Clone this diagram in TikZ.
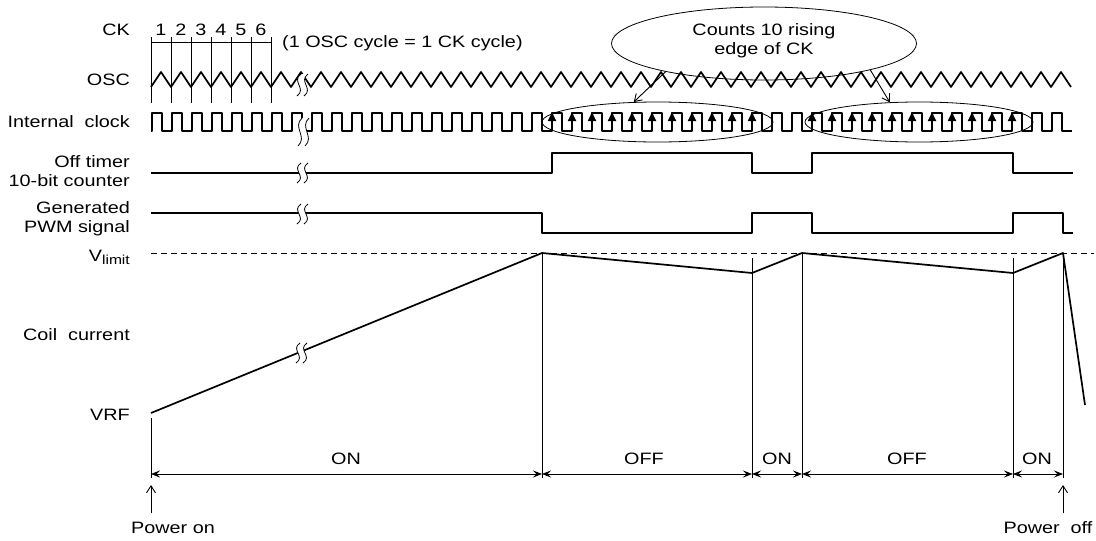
\documentclass[tikz,border=0pt]{standalone}
\usepackage{fontspec}
\setmainfont{Liberation Sans}[FakeStretch=1.2]
\usetikzlibrary{shapes.geometric,arrows.meta}
\tikzset{
  lbl/.style={font=\fontsize{16.5}{19}\selectfont, inner sep=0pt},
  sig/.style={line width=1.7pt, line join=round},
  thinline/.style={line width=0.8pt},
  dim/.style={line width=0.8pt, {Stealth[length=9pt,width=7pt,inset=3.5pt]}-{Stealth[length=9pt,width=7pt,inset=3.5pt]}},
  ptr/.style={line width=0.9pt, -{Straight Barb[length=7pt,width=9pt]}},
  upedge/.style={line width=1.7pt, -{Triangle[length=9pt,width=8pt]}},
  oval/.style={draw, ellipse, line width=0.8pt, inner sep=0pt},
  brk/.pic={
    \fill[white] (-2,-#1) .. controls (-12,-#1/3) and (4,#1/3) .. (-6,#1)
       -- (1,#1) .. controls (11,#1/3) and (-5,-#1/3) .. (5,-#1) -- cycle;
    \draw[line width=0.8pt] (-2,-#1) .. controls (-12,-#1/3) and (4,#1/3) .. (-6,#1);
    \draw[line width=0.8pt] (5,-#1) .. controls (-5,-#1/3) and (11,#1/3) .. (1,#1);
  }
}
\begin{document}
\begin{tikzpicture}[x=1pt,y=-1pt]
\useasboundingbox (0,0) rectangle (1096,541);

% left labels
\node[lbl, anchor=east] (lck) at (130,30) {CK};
\node[lbl, anchor=east] (losc) at (130,80) {OSC};
\node[lbl, anchor=east] (lint) at (130,122) {Internal\ \ clock};
\node[lbl, anchor=east, align=right] (loff) at (130,171) {Off timer\\10-bit counter};
\node[lbl, anchor=east, align=right] (lpwm) at (130,219) {Generated\\PWM signal};
\node[lbl, anchor=east] (lvl) at (130,257) {V\raisebox{-0.35ex}{\fontsize{13}{13}\selectfont limit}};
\node[lbl, anchor=east] (lcoil) at (130,335) {Coil\ \ current};
\node[lbl, anchor=east] (lvrf) at (130,415) {VRF};

% CK ruler
\draw[thinline] (151,42) -- (271,42);
\foreach \k in {0,...,6} { \draw[thinline] (151+20*\k,37) -- (151+20*\k,103); }
\foreach \k in {1,...,6} { \node[lbl] (ck\k) at (141+20*\k,30) {\k}; }
\node[lbl, anchor=west] (note) at (282,43) {(1 OSC cycle = 1 CK cycle)};

% OSC
\draw[sig] (151,87) \foreach \i in {0,...,45} { -- (161+20*\i,72) -- (171+20*\i,87) };

% Internal clock
\draw[sig] (151,131) \foreach \i in {0,...,45} { -- (152+20*\i,131) -- (152+20*\i,113) -- (162+20*\i,113) -- (162+20*\i,131) } -- (1072,131);
\foreach \i in {20,...,30} { \draw[upedge] (152+20*\i,131) -- (152+20*\i,112); }
\foreach \i in {33,...,43} { \draw[upedge] (152+20*\i,131) -- (152+20*\i,112); }

% Off timer
\draw[sig] (151,173) -- (552,173) -- (552,153) -- (752,153) -- (752,173) -- (812,173) -- (812,153) -- (1013,153) -- (1013,173) -- (1073,173);
% PWM
\draw[sig] (151,213) -- (542,213) -- (542,233) -- (752,233) -- (752,213) -- (812,213) -- (812,233) -- (1013,233) -- (1013,213) -- (1063,213) -- (1063,233) -- (1073,233);

% Vlimit
\draw[line width=0.7pt, dash pattern=on 6pt off 4pt] (151,253) -- (1094,253);

% vertical time lines
\draw[thinline] (151,418) -- (151,478);
\draw[thinline] (542,253) -- (542,478);
\draw[thinline] (752,258) -- (752,478);
\draw[thinline] (802,253) -- (802,478);
\draw[thinline] (1013,258) -- (1013,478);
\draw[thinline] (1063,253) -- (1063,478);

% coil current
\draw[sig] (151,413) -- (542,253) -- (752,273) -- (802,253) -- (1013,273) -- (1063,253) -- (1085,405);

% breaks
\pic at (303,85) {brk=11};
\pic at (304,132) {brk=14};
\pic at (303,173) {brk=10};
\pic at (303,214) {brk=10};
\pic at (302,353) {brk=10};

% ellipses
\node[oval, minimum width=305pt, minimum height=73pt] (cnt) at (764,43.5) {};
\node[lbl, align=center] (cnttxt) at (764,41) {Counts 10 rising\\edge of CK};
\node[oval, minimum width=231pt, minimum height=40pt] (e1) at (657.5,122) {};
\node[oval, minimum width=228pt, minimum height=40pt] (e2) at (919,122) {};
\draw[ptr] (cnt.196) -- (e1.140);
\draw[ptr] (cnt.346) -- (e2.146);

% dimensions
\coordinate (d0) at (151,474);
\coordinate (d1) at (542,474);
\coordinate (d2) at (752,474);
\coordinate (d3) at (802,474);
\coordinate (d4) at (1013,474);
\coordinate (d5) at (1063,474);
\draw[dim] (d0) -- (d1);
\draw[dim] (d1) -- (d2);
\draw[dim] (d2) -- (d3);
\draw[dim] (d3) -- (d4);
\draw[dim] (d4) -- (d5);
\node[lbl] (on1) at (346,459) {ON};
\node[lbl] (off1) at (644,459) {OFF};
\node[lbl] (on2) at (777,459) {ON};
\node[lbl] (off2) at (907,459) {OFF};
\node[lbl] (on3) at (1037,459) {ON};

% power on/off
\coordinate (pon) at (151,513);
\coordinate (pont) at (151,485);
\coordinate (poff) at (1063,513);
\coordinate (pofft) at (1063,485);
\draw[ptr] (pon) -- (pont);
\draw[ptr] (poff) -- (pofft);
\node[lbl] (ponl) at (173,528) {Power on};
\node[lbl] (poffl) at (1048,528) {Power\ \ off};
\end{tikzpicture}
\end{document}
